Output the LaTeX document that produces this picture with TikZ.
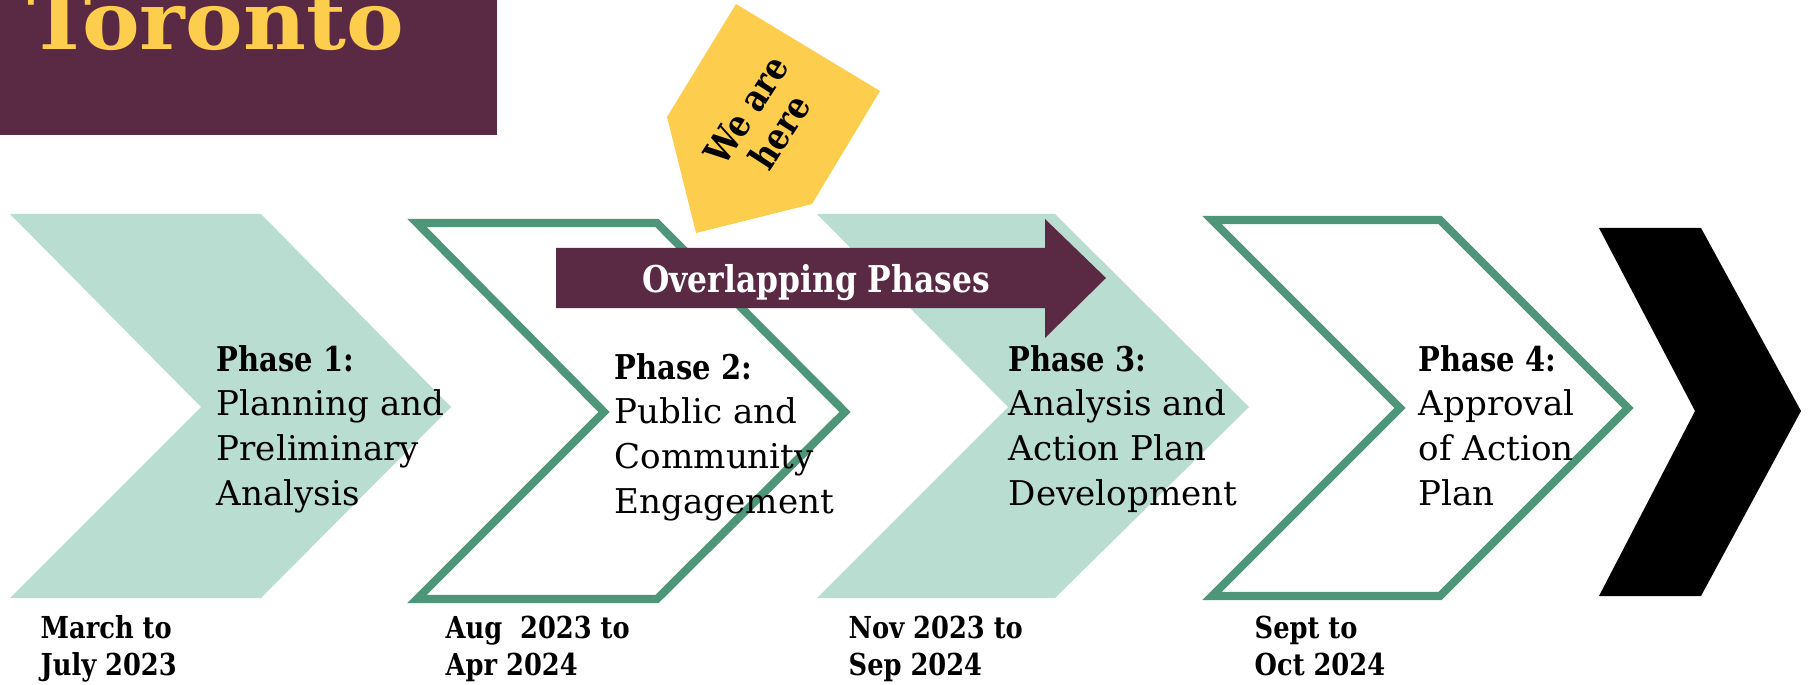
\documentclass[tikz,border=0pt]{standalone}
\usepackage{fontspec}
\setmainfont{DejaVu Serif}
\newfontfamily\slabnarrow{DejaVu Serif}[FakeStretch=0.85]
\newfontfamily\slabwide{DejaVu Serif}[FakeStretch=1.07]
\usetikzlibrary{positioning}

\definecolor{mint}{RGB}{186,221,209}
\definecolor{pine}{RGB}{78,150,121}
\definecolor{plum}{RGB}{90,41,67}
\definecolor{sun}{RGB}{253,205,78}

\tikzset{
  phasefill/.style={fill=mint},
  phaseline/.style={draw=pine,line width=2.3pt,miter limit=10},
  phasetext/.style={anchor=base west,align=left,inner sep=0pt,font=\fontsize{9.7}{12.66}\selectfont},
  datetext/.style={anchor=base west,align=left,inner sep=0pt,font=\slabnarrow\bfseries\fontsize{8.6}{10.5}\selectfont},
}

\begin{document}
\begin{tikzpicture}[x=0.01cm,y=-0.01cm]
   \useasboundingbox (0,0) rectangle (1812,685);
   \clip (0,0) rectangle (1812,685);
   \fill[white] (0,0) rectangle (1812,685);

   % title block
   \fill[plum] (0,0) rectangle (497,135);
   \node[anchor=base west,inner sep=0pt,text=sun,font=\slabwide\bfseries\fontsize{23}{24}\selectfont] (title) at (27,50) {Toronto};

   % phase chevrons
   \fill[phasefill] (10,214) -- (261,214) -- (451,407) -- (261,598) -- (10,598) -- (201,407) -- cycle;
   \draw[phaseline] (417,223) -- (657,223) -- (845,412) -- (657,599) -- (417,599) -- (604,412) -- cycle;
   \fill[phasefill] (817,214) -- (1055,214) -- (1249,407) -- (1055,598) -- (817,598) -- (1008,407) -- cycle;
   \draw[phaseline] (1212,220) -- (1440,220) -- (1628,408) -- (1440,596) -- (1212,596) -- (1400,408) -- cycle;
   \fill[black] (1599,228) -- (1701,228) -- (1801,411) -- (1701,596) -- (1599,596) -- (1695,411) -- cycle;

   % overlap arrow
   \fill[plum] (556,248) -- (1045,248) -- (1045,219) -- (1106,278) -- (1045,338) -- (1045,308) -- (556,308) -- cycle;
   \node[anchor=base,inner sep=0pt,text=white,font=\slabnarrow\bfseries\fontsize{10.5}{12}\selectfont] (overlap) at (816,292) {Overlapping Phases};

   % marker
   \fill[sun] (736,4) -- (880,91) -- (812,204) -- (696,233) -- (667,117) -- cycle;
   \node[rotate=57,align=center,inner sep=0pt,font=\slabnarrow\bfseries\fontsize{10.5}{11.4}\selectfont] (here) at (763,121) {We are\\here};

   % phase texts (anchored on last line)
   \node[phasetext] (p1) at (216,505) {{\slabnarrow\bfseries Phase 1:}\\Planning and\\Preliminary\\Analysis};
   \node[phasetext] (p2) at (614,513) {{\slabnarrow\bfseries Phase 2:}\\Public and\\Community\\Engagement};
   \node[phasetext] (p3) at (1008,505) {{\slabnarrow\bfseries Phase 3:}\\Analysis and\\Action Plan\\Development};
   \node[phasetext] (p4) at (1418,505) {{\slabnarrow\bfseries Phase 4:}\\Approval\\of Action\\Plan};

   % dates
   \node[datetext] (d1) at (40,675) {March to\\July 2023};
   \node[datetext] (d2) at (445,675) {Aug\ \ 2023 to\\Apr 2024};
   \node[datetext] (d3) at (848,675) {Nov 2023 to\\Sep 2024};
   \node[datetext] (d4) at (1254,675) {Sept to\\Oct 2024};
\end{tikzpicture}
\end{document}
